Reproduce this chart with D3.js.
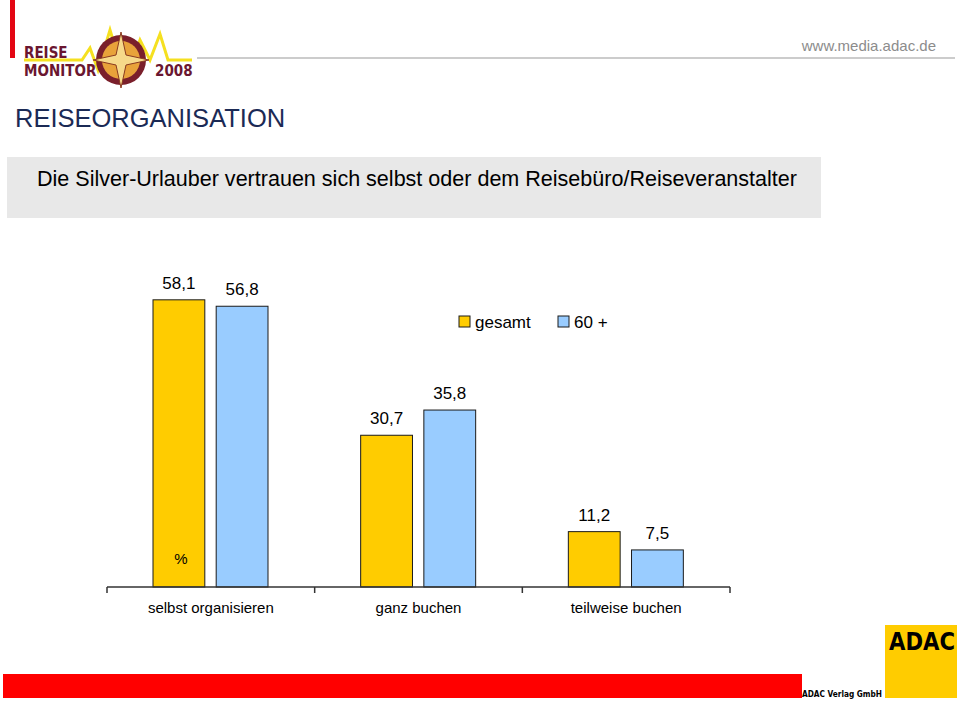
<!DOCTYPE html>
<meta charset="utf-8">
<style>
body { margin: 0; background: #fff; }
svg { display: block; font-family: 'Liberation Sans', Arial, sans-serif; }
</style>
<svg width="960" height="702"></svg>
<script src="https://d3js.org/d3.v7.min.js"></script>
<script>

var categories = ["selbst organisieren", "ganz buchen", "teilweise buchen"],
    series = ["gesamt", "60 +"],
    gesamt = [58.1, 30.7, 11.2],
    sechzig = [56.8, 35.8, 7.5],
    colors = ["#FFCC00", "#99CCFF"];

var svg = d3.select("svg");

// header
svg.append("rect").attr("x", 10).attr("y", 0).attr("width", 5).attr("height", 58).attr("fill", "#E30613");
svg.append("line").attr("x1", 197).attr("x2", 955).attr("y1", 58).attr("y2", 58)
    .attr("stroke", "#BBBBBB").attr("stroke-width", 1.5);
svg.append("text").attr("x", 936).attr("y", 51).attr("text-anchor", "end")
    .attr("font-size", 15).attr("fill", "#8C8C8C").text("www.media.adac.de");

// logo (rough)
var logo = svg.append("g");
logo.append("polyline")
    .attr("points", "24,60 82,60 90,48 98,70 110,30 125,80 140,40 150,60 160,34 168,60 192,60")
    .attr("fill", "none").attr("stroke", "#F5E020").attr("stroke-width", 3);
logo.append("circle").attr("cx", 121).attr("cy", 60).attr("r", 25).attr("fill", "#7A1F2B");
logo.append("circle").attr("cx", 121).attr("cy", 60).attr("r", 19).attr("fill", "#E8A23A");
logo.append("path").attr("d", "M121,32 L126,55 L149,60 L126,65 L121,88 L116,65 L93,60 L116,55 Z")
    .attr("fill", "#F6D98A").attr("stroke", "#8A3A20").attr("stroke-width", 1);
logo.append("text").attr("x", 24).attr("y", 58).attr("font-size", 15).attr("font-weight", "bold")
    .attr("fill", "#6A1630").attr("font-family", "'DejaVu Sans Condensed', sans-serif").text("REISE");
logo.append("text").attr("x", 24).attr("y", 76).attr("font-size", 15).attr("font-weight", "bold")
    .attr("fill", "#6A1630").attr("font-family", "'DejaVu Sans Condensed', sans-serif").text("MONITOR");
logo.append("text").attr("x", 155).attr("y", 76).attr("font-size", 15).attr("font-weight", "bold")
    .attr("fill", "#6A1630").attr("font-family", "'DejaVu Sans Condensed', sans-serif").text("2008");

svg.append("text").attr("x", 15).attr("y", 127).attr("font-size", 25.5).attr("fill", "#1B2A55")
    .text("REISEORGANISATION");

svg.append("rect").attr("x", 7).attr("y", 157).attr("width", 814).attr("height", 61).attr("fill", "#E8E8E8");
svg.append("text").attr("x", 417).attr("y", 186).attr("text-anchor", "middle")
    .attr("font-size", 21.5).attr("fill", "#000")
    .attr("textLength", 760).attr("lengthAdjust", "spacingAndGlyphs")
    .text("Die Silver-Urlauber vertrauen sich selbst oder dem Reisebüro/Reiseveranstalter");

// chart
var x = d3.scaleBand().domain(categories).range([107, 730]);
var xs = d3.scaleBand().domain(series).range([46, 161]).paddingInner(0.18);
var y = d3.scaleLinear().domain([0, 70]).range([587, 241]);

var rows = categories.map(function(c, i) {
  return { cat: c, vals: [gesamt[i], sechzig[i]] };
});

var grp = svg.selectAll("g.grp").data(rows).enter().append("g")
    .attr("class", "grp")
    .attr("transform", function(d) { return "translate(" + x(d.cat) + ",0)"; });

grp.selectAll("rect").data(function(d) {
    return d.vals.map(function(v, j) { return { s: series[j], v: v, j: j }; });
  }).enter().append("rect")
    .attr("x", function(d) { return xs(d.s); })
    .attr("y", function(d) { return y(d.v); })
    .attr("width", xs.bandwidth())
    .attr("height", function(d) { return y(0) - y(d.v); })
    .attr("fill", function(d) { return colors[d.j]; })
    .attr("stroke", "#1a1a1a").attr("stroke-width", 1);

grp.selectAll("text.val").data(function(d) {
    return d.vals.map(function(v, j) { return { s: series[j], v: v }; });
  }).enter().append("text")
    .attr("class", "val")
    .attr("x", function(d) { return xs(d.s) + xs.bandwidth() / 2; })
    .attr("y", function(d) { return y(d.v) - 11; })
    .attr("text-anchor", "middle").attr("font-size", 17)
    .text(function(d) { return String(d.v).replace(".", ","); });

var axis = d3.axisBottom(x).tickSize(0).tickFormat("");
var ax = svg.append("g").attr("transform", "translate(0," + y(0) + ")").call(axis);
ax.select(".domain").attr("stroke", "#333").attr("stroke-width", 1.5).attr("d", "M107,0H730");
ax.selectAll(".tick").remove();
var edges = categories.map(function(c) { return x(c); }).concat([x.range()[1]]);
ax.selectAll("line.sep").data(edges).enter().append("line")
    .attr("x1", function(d) { return d; }).attr("x2", function(d) { return d; })
    .attr("y1", 0).attr("y2", 6).attr("stroke", "#333").attr("stroke-width", 1.5);

svg.selectAll("text.cat").data(categories).enter().append("text")
    .attr("x", function(d) { return x(d) + x.bandwidth() / 2; })
    .attr("y", 613).attr("text-anchor", "middle").attr("font-size", 15)
    .text(function(d) { return d; });

svg.append("text").attr("x", x(categories[0]) + xs(series[0]) + xs.bandwidth() / 2 + 2)
    .attr("y", 564).attr("text-anchor", "middle").attr("font-size", 15).text("%");

// legend
var lg = svg.selectAll("g.lg").data(series).enter().append("g")
    .attr("class", "lg")
    .attr("transform", function(d, i) { return "translate(" + (459 + i * 99) + ",316)"; });
lg.append("rect").attr("width", 11).attr("height", 11)
    .attr("fill", function(d, i) { return colors[i]; })
    .attr("stroke", "#1a1a1a").attr("stroke-width", 1);
lg.append("text").attr("x", 16).attr("y", 12).attr("font-size", 17).text(function(d) { return d; });

// footer
svg.append("rect").attr("x", 3).attr("y", 674).attr("width", 799).attr("height", 24).attr("fill", "#FF0000");
svg.append("rect").attr("x", 885).attr("y", 625).attr("width", 72).attr("height", 73).attr("fill", "#FFCC00");
svg.append("text").attr("x", 802).attr("y", 697).attr("font-size", 9).attr("font-weight", "bold")
    .attr("font-family", "'DejaVu Sans Condensed', sans-serif")
    .attr("textLength", 80).attr("lengthAdjust", "spacingAndGlyphs").text("ADAC Verlag GmbH");
svg.append("text").attr("x", 955).attr("y", 650).attr("text-anchor", "end").attr("font-size", 24)
    .attr("font-weight", "bold").attr("font-family", "'DejaVu Sans Condensed', sans-serif")
    .attr("textLength", 66).attr("lengthAdjust", "spacingAndGlyphs").text("ADAC");
</script>
